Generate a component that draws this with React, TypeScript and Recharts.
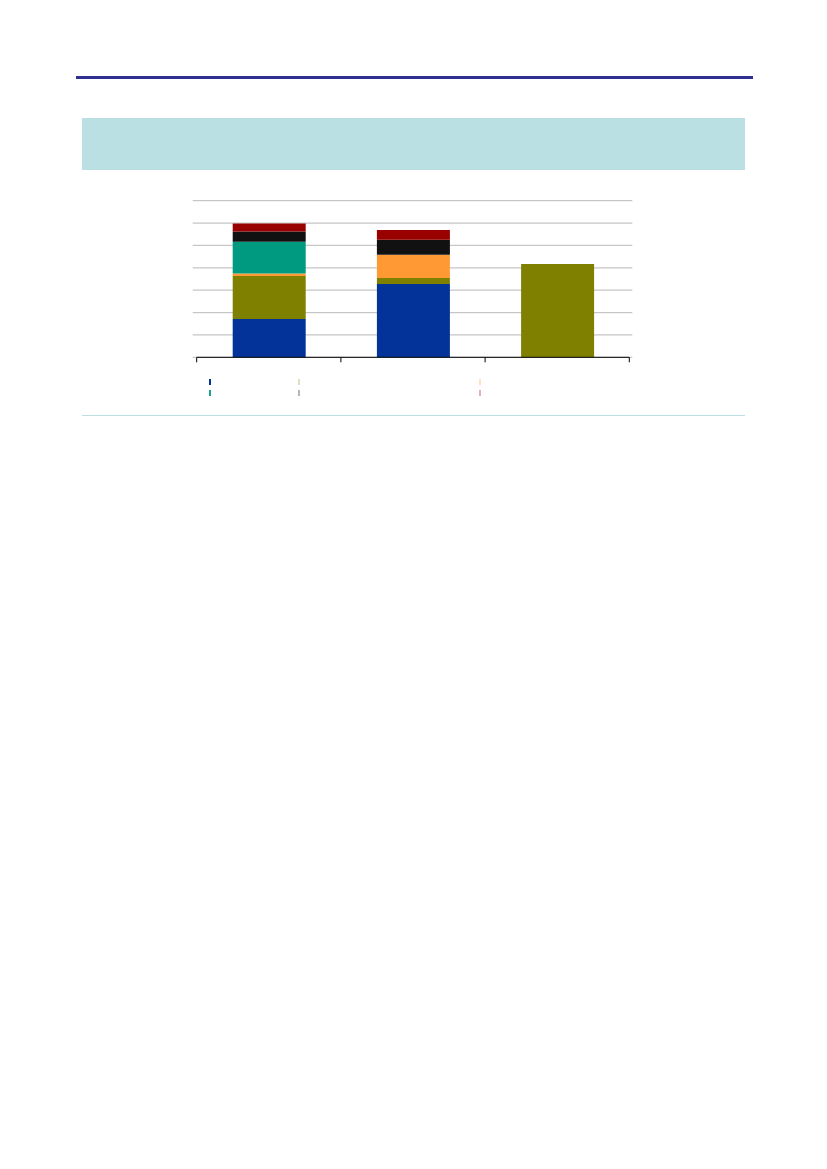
import React from "react";
import { BarChart, Bar, XAxis, YAxis, CartesianGrid } from "recharts";

// category positions on the number axis (ticks sit on the category boundaries)
const xPos = [0.5, 1.5, 2.5];
const xTicks = [0, 1, 2, 3];
const yTicks = [0, 1, 2, 3, 4, 5, 6, 7];

// stacked series, bottom to top (values read in gridline units)
const blue = [1.71, 3.28, 0];
const olive = [1.92, 0.27, 4.17];
const orange = [0.12, 1.03, 0];
const teal = [1.42, 0, 0];
const black = [0.45, 0.68, 0];
const red = [0.36, 0.43, 0];

const seriesKeys = ["blue", "olive", "orange", "teal", "black", "red"];
const seriesColors = ["#033399", "#808000", "#FF9933", "#009A80", "#111111", "#990000"];
const legendFade = [1, 0.25, 0.3, 0.9, 0.3, 0.3];

const data = xPos.map((x, i) => ({
  x,
  blue: blue[i],
  olive: olive[i],
  orange: orange[i],
  teal: teal[i],
  black: black[i],
  red: red[i],
}));

// grid lines run a little past the axis on both sides
const GridLine = (props: any) => {
  const { x1, x2, y1, y2, key } = props;
  return (
    <line
      key={key}
      x1={x1 - 4}
      x2={x2 + 3}
      y1={y1}
      y2={y2}
      stroke="#c6c6c6"
      strokeWidth={1.2}
    />
  );
};

const legendCols = [209, 298, 479];
const legendRows = [379, 390];

const App = () => {
  return (
    <div
      style={{
        position: "absolute",
        left: 0,
        top: 0,
        width: 827,
        height: 1169,
        background: "#fff",
        overflow: "hidden",
      }}
    >
      {/* header rule */}
      <div
        style={{
          position: "absolute",
          left: 76,
          top: 76,
          width: 677,
          height: 2.5,
          background: "#2E2F90",
        }}
      />
      {/* title band */}
      <div
        style={{
          position: "absolute",
          left: 82,
          top: 118,
          width: 663,
          height: 52,
          background: "#BAE0E3",
        }}
      />
      <BarChart
        width={827}
        height={420}
        data={data}
        margin={{ top: 200.7, left: 196.7, right: 197.7, bottom: 52.7 }}
        style={{ position: "absolute", left: 0, top: 0 }}
      >
        <CartesianGrid vertical={false} horizontal={GridLine} />
        <XAxis
          type="number"
          dataKey="x"
          domain={[0, 3]}
          ticks={xTicks}
          interval={0}
          tickFormatter={() => ""}
          stroke="#000"
          tickSize={5}
          height={10}
        />
        <YAxis hide width={0} domain={[0, 7]} ticks={yTicks} interval={0} />
        {seriesKeys.map((k, i) => (
          <Bar
            key={k}
            dataKey={k}
            stackId="a"
            barSize={73}
            fill={seriesColors[i]}
            isAnimationActive={false}
          />
        ))}
      </BarChart>
      {/* legend: tiny colour marks, no labels */}
      {seriesKeys.map((k, i) => (
        <div
          key={k}
          style={{
            position: "absolute",
            left: legendCols[i % 3],
            top: legendRows[Math.floor(i / 3)],
            width: 1.5,
            height: 6,
            background: seriesColors[i],
            opacity: legendFade[i],
          }}
        />
      ))}
      {/* bottom rule */}
      <div
        style={{
          position: "absolute",
          left: 82,
          top: 415,
          width: 663,
          height: 1.2,
          background: "#BAE0E3",
        }}
      />
    </div>
  );
};

export default App;
